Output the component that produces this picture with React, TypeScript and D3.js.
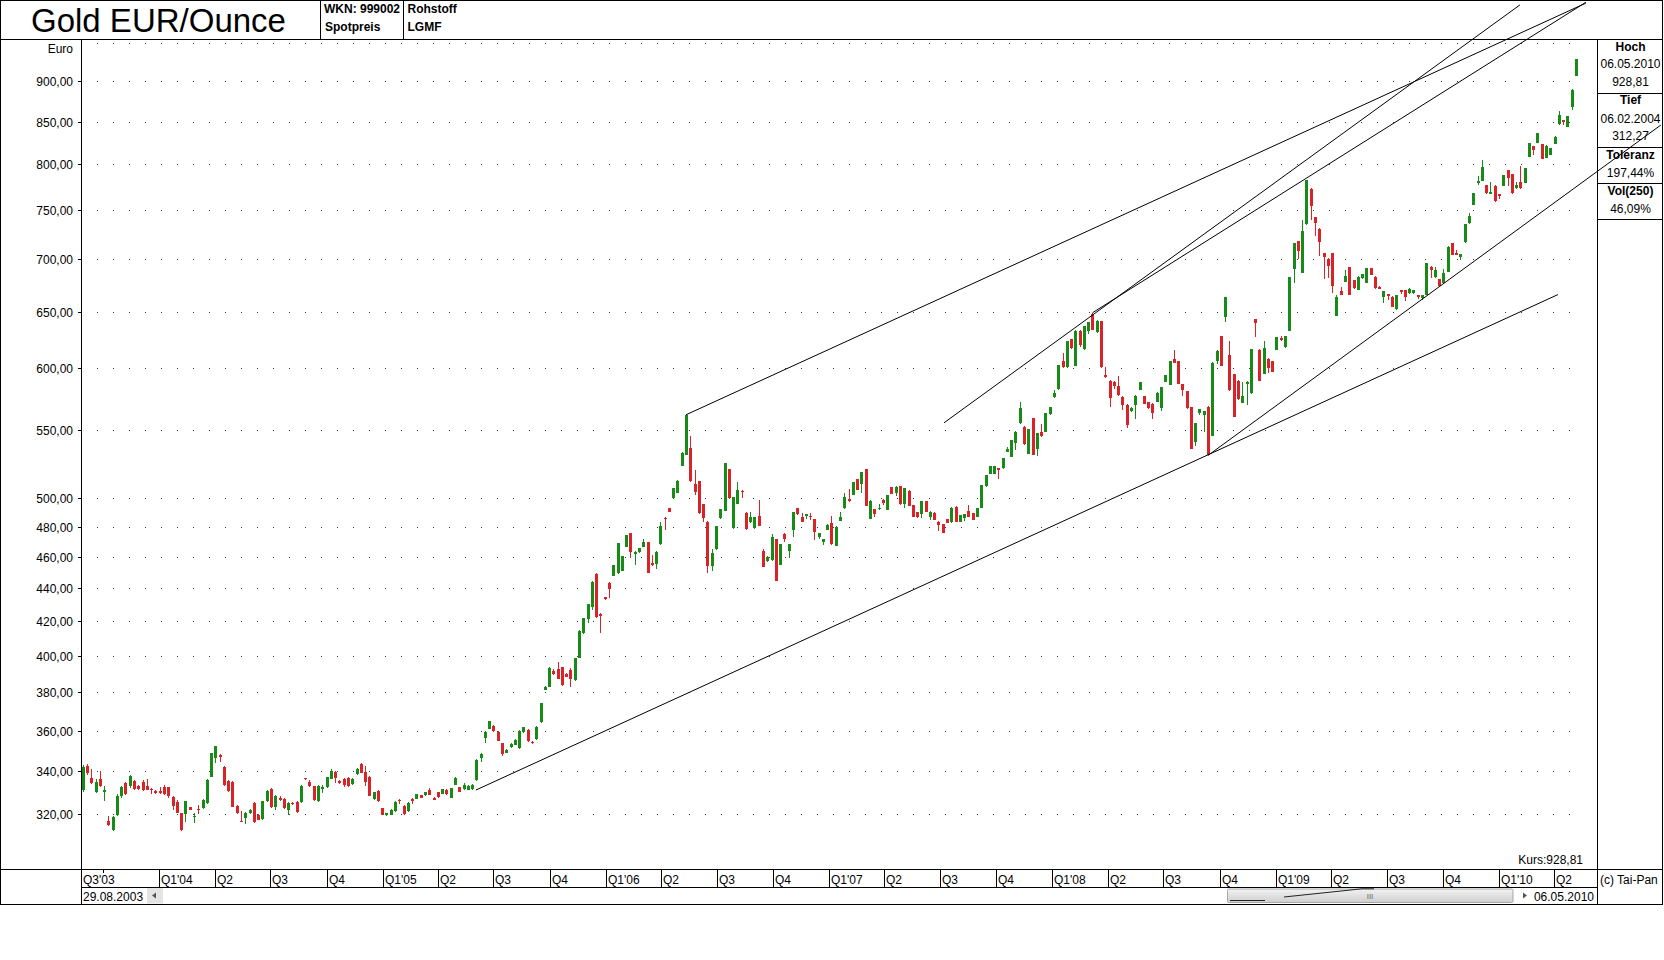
import React from "react";
import * as d3 from "d3";

const W = 1664;
const H = 960;

const startDate = new Date(2003, 7, 29);
const endDate = new Date(2010, 4, 7);

const opens = [
  331,342.5,336.6,330,336,330.2,317,312.7,319.7,328,
  334.3,332.7,335.3,333,335,332.7,331.6,330.7,330.7,332.2,
  332.2,327.9,325.3,320.3,320,323,318.5,322.3,322.6,325,
  337.2,346.4,348,341.9,335.3,334.9,323.7,317,318.3,320.3,
  325,319.5,317.9,325.7,331.6,323,327.3,327,321.9,325,
  325.4,325.3,336.6,334.6,332.7,325.7,331.5,332.4,336.3,339.7,
  335.1,336,336.7,333.8,338.4,343.2,339.5,337.2,327,330.6,
  322.6,319.5,319.7,321.4,326.6,323.7,321.3,327,327,328.6,
  328.7,331,327.5,330,329.3,331,327.5,333.5,332.2,331.3,
  331.2,331.3,335.6,346.2,356.3,361,362.4,359.2,353.5,349,
  351.7,352.8,351,359.2,360.3,354,355.5,364.2,381.3,382.9,
  391.6,392.6,393.5,389.9,392,386.6,398.8,413,421.3,428.7,
  449,424.3,434.4,443.4,447.8,449.3,451,466.6,475.4,462,
  463,466.6,469.5,456,455.6,468.3,486,492.5,499.5,503.6,
  523,531,536,509.7,511.8,495.5,483.3,454.3,464.8,485.6,
  490.8,520.6,478.8,495.5,504.8,489.5,482.9,478.8,487.2,463.9,
  457,457.6,471.6,455,475.1,463.9,477.7,492.5,486.3,487.2,
  487.2,485,472.9,469.8,477.8,482.1,467.2,484.1,492.5,498.9,
  502,513,509.7,520.6,485.2,491.8,492,498.2,491.4,507.3,
  503,508.2,495.5,504.8,494.8,489.7,488.5,497.6,486.3,489.5,
  483.3,481.5,485.2,482.9,493.5,483.3,485.6,490.8,489,486.8,
  493.1,508.2,517.2,517,521,521,533.6,529.5,540.2,555.4,
  552.6,531.8,559.1,535.3,548.9,548.9,562.3,575.9,582.6,606.1,
  600.9,625.4,602.2,632.7,616.3,632.7,647.8,631.4,641.6,594.4,
  589.6,588.8,585.2,576.4,570.2,565.1,569.6,582.4,576.9,572.3,
  571,572.3,567.1,588.8,585.8,608.4,606.1,586.7,581.2,567.9,
  541,563.1,561.8,568.4,545.5,606.4,628.1,645.3,611.5,595.2,
  589.6,571.5,586.9,579.2,643.1,616,595.2,608.4,606.4,616,
  626,618.2,632.7,690.8,717.9,686.5,735.2,772.4,742.4,730.9,
  706.2,700.5,706.2,646.2,669.4,678,692.4,679.6,670.1,681.3,
  677.1,691,682.8,673.3,663.8,666.4,663.8,652.2,670.1,670.1,
  666.9,666.9,665.4,662.4,665.4,692.6,682.2,680.3,676.7,687.8,
  715.7,706.2,701.7,716.9,736.3,755.5,779.6,781.8,777.1,767.4,
  776.4,767.4,776.4,793.4,789.1,773.5,780.7,779.2,808.5,821.3,
  824.4,823.6,807.4,811.1,823.2,846.6,852.1,843.4,867.5,906.2,
];

const highs = [
  343,343.5,341,336,340,332.7,319,319,329,333,
  334.6,338,335.6,333.5,335.5,336,332,331,332.2,333.5,
  332.5,328.2,326.6,320.6,326,323.3,320.5,324,327,336,
  349,352.3,348.5,342.2,335.6,335.2,324,321.3,321,322.2,
  325.3,319.8,326,331,332,328.7,328,327.3,325.3,325.3,
  325.7,333.3,336.9,335.5,333,333.3,333.5,337.3,341,340,
  335.5,336.6,337,336.6,341.5,343.7,342.4,337.5,330.3,331,
  322.9,320.6,322.2,325.7,326.9,324,325.5,327.3,329.3,328.9,
  330.3,331.8,327.8,330.3,331.6,331.3,332.1,337,332.5,334.3,
  333.3,333.8,345.7,348.8,359.5,365,362.7,359.5,353.8,350.5,
  353.7,355.5,360.3,361.9,360.6,354.8,362.2,374.5,383.3,393.9,
  392.6,396.5,393.8,390.2,393,398.9,415,422,430.6,444.3,
  449.3,425,434.7,443.7,454.9,469.1,460.8,474.6,475.7,463.5,
  465.8,472,469.8,461,463.6,483,486.3,492.8,506.9,512.3,
  533.5,562,545.3,519.6,512.1,495.8,483.6,465,480.7,492.3,
  525,520.9,500.5,511.4,505.1,489.8,490,486.7,498.3,464.9,
  460.3,475,471.9,468.6,475.4,468.6,490,492.8,489,488.6,
  489,485.3,475.9,471.9,481.7,487,480.1,490,503,506,
  511.2,513.3,518.4,520.9,498.2,492.1,495.6,499,502.2,507.6,
  508.1,508.5,506.9,505.1,495.1,490,497.9,497.9,490.5,489.8,
  483.6,481.8,485.5,493.4,493.8,488.2,488.8,494.8,489.3,492.8,
  509.2,516.5,523.1,523.1,521.3,528.8,537,542.6,549,572,
  552.9,550.9,559.4,547.8,555,563.4,568.2,582,603.1,613,
  623.9,625.7,633,633,637.2,640.6,649,642.2,641.9,601,
  589.9,589.1,593.5,576.7,570.5,568.5,577.8,588.6,577.2,572.6,
  571.3,580,584.4,594.7,606.4,616,606.4,587,581.5,568.2,
  555.7,566.6,565.4,568.7,605.1,615.4,628.4,663.6,624,595.5,
  589.9,589,589.1,616.9,643.4,616.3,623.6,608.7,606.7,627.2,
  628,628.4,682.5,716,718.2,740,782.8,774.4,742.7,731.2,
  706.5,700.8,706.5,665.4,673,689.4,692.7,679.9,683.1,685.4,
  691.3,691.3,683.1,673.6,669.7,666.7,664.1,665.7,670.4,670.4,
  672,670.3,665.7,665.7,696.2,692.9,692,680.6,690,712.6,
  716,709,705.3,735.8,747.2,768.4,786.9,805,777.4,780,
  776.7,767.7,788.3,793.7,789.4,781,798.5,795.8,824.7,821.6,
  836.4,823.9,822,819,832.5,862.3,852.4,856.5,889.5,928.81,
];

const lows = [
  330,338,334,329.5,332.5,326,314.5,312.5,319,327.5,
  328.5,332,331,331,330.5,331,329,329.3,329.3,328.7,
  327.5,322,320.3,312.27,316.6,321.8,316,320,322.3,324.6,
  337,344,344.6,333,330,323,320,316.2,315.3,320,
  316,317.2,317.5,325.4,322.7,322,326,322.3,319.5,324.2,
  320.5,325,335.8,332.4,325.8,325.4,329.5,332,336,334.3,
  334,332.5,332.4,333.5,338,339,332.7,328,326.5,325.4,
  319.4,319.2,319.4,321.1,324.6,319.7,321,324.6,326.7,327.2,
  328.4,328.5,326.3,327.5,329,328.7,327.2,333.2,330,331,
  330.9,331,335.3,344.5,353.5,360.7,359.4,354.5,347.5,348.7,
  351.4,352.5,350.5,358.9,354.2,353.2,355.2,363.9,381,382.6,
  389.4,387,383.6,388,382.6,386.3,398.5,412.5,419,427,
  422,413.3,433,434,447.5,449,450.7,466.3,459,455,
  462.7,466.3,449.4,454.3,452,468,478,489.9,499.2,503.3,
  522.7,530.7,511.5,502,488.7,483,449.8,450.6,464.5,485.3,
  490.5,499.2,478.5,495.2,500,477.9,482.6,478.5,480.4,453.2,
  456.7,457.3,444.4,454.7,470,459,473.2,488.2,483,485.5,
  484.5,471,471.5,468,477.5,468,466.9,483.8,492.2,497,
  501.7,505.1,503,494,484.9,486.3,491.7,495,491.1,502.4,
  501,494.9,492.5,494,486.5,486,486,489.9,484.5,484.2,
  477.3,475.6,482.3,482.6,483,483,483.5,486.5,484.2,486.5,
  492.8,507.9,516.9,516.7,513.3,520.7,533.3,529.2,535,555.1,
  538.7,531.5,530.7,530,544.8,548.6,562,575.6,582.3,600.6,
  600.6,616.9,601.9,618,616,629.7,633.5,631.1,600.6,592.2,
  568,583,577.5,565.7,552,564.5,559,582.1,570.7,566.8,
  559,572,565,588.5,585.8,604.5,586.6,577,566.8,535.5,
  537.7,561.5,548.7,530.7,545.2,604,601.9,640.8,581.3,560.2,
  574,571.2,570,578.9,627.4,589.3,594.9,596,597,615.7,
  623.5,617.9,632.4,676.6,699.7,686.2,734.9,740,723,702.9,
  680.3,681.3,667.4,645.9,665.1,677.7,665.1,671.4,669.8,681,
  676.8,684.3,671.4,670.8,657.6,660.7,654.2,651.9,666,660,
  666.6,666.6,662,660.5,665.1,681.3,681.9,673.7,676.4,687.5,
  703.7,703.7,699,716.6,736,755.2,777,781.5,767.8,767.1,
  759.3,761.9,776.1,776.4,767.8,773.2,773.2,778.9,808.2,810.3,
  824.1,806.3,807.1,810.8,822.9,846.3,845.3,843.1,864,905.9,
];

const closes = [
  342,339,334.3,334.6,333,331.2,315,318.5,328.4,332.4,
  329,337.5,331.6,331.5,331,331.2,331,329.6,329.6,329,
  328,323.7,320.6,313,325.7,322,319.2,321.7,326.5,335.6,
  348.6,352,346.8,333.2,330.4,323.4,320.3,316.5,320.6,321.9,
  316.2,317.5,325.7,330.7,323,328.4,326.2,322.6,325,324.5,
  320.8,333,336.1,332.7,326.2,333,332.3,337,340,336.7,
  334.3,333.2,332.7,336.3,341.2,339.2,334.6,328.3,330,325.7,
  319.7,320.3,321.9,325.4,326.1,320,325.2,325.7,329,327.5,
  330,328.8,326.6,327.8,331.3,329,331.8,336.7,330.3,333.5,
  333,333.5,345.4,348.5,359.2,364.7,359.7,354.8,348.2,350.2,
  353.4,355.2,360,361.6,354.5,353.5,361.9,374.2,382.8,393.3,
  389.7,387.2,383.8,388.3,387,398.6,414.4,421.7,430.3,444,
  422.3,423.4,433.3,439.5,454.6,468.8,460.5,474.3,463.3,463.3,
  465.5,469.8,449.7,454.6,463.3,480.4,485.3,490.2,506.6,512,
  532.3,561.8,512,503.9,489,485.6,454.2,462.2,480.4,492,
  524.7,499.5,500.2,505.4,504,478.2,486.8,486.4,480.7,453.5,
  459.8,472.8,444.7,468.3,471.6,468.3,489.7,488.5,483.3,488.3,
  486.3,476.6,475.6,471.6,481.4,468.3,479.8,486.8,500.6,497.3,
  510.9,505.4,518.1,494.3,497.9,488.5,493.1,495.9,501.9,502.7,
  507.8,495.2,506.6,494.3,486.8,486.3,497.6,490.2,490.2,484.5,
  481.1,475.9,482.6,493.1,483.3,487.9,488.5,486.8,484.5,492.5,
  508.9,516.2,522.8,522.8,519.8,528.5,535.3,542.3,548.7,567.1,
  539,550.6,531,547.5,545.1,563.1,567.9,579.2,602.8,600.9,
  623.6,617.2,632.7,619.9,636.9,640.3,633.8,641.9,600.9,592.5,
  575.1,585.5,577.8,570.2,554.1,567.6,577.5,588.3,571,567.1,
  563.5,579.7,584.1,594.4,606,604.8,586.9,582,567.1,535.8,
  555.4,566.3,565.1,531,604.8,615.1,602.2,663.3,581.6,560.5,
  574.3,576.9,588.8,616.6,639.5,589.6,617.5,600,597.3,626.9,
  624.5,628.1,682.2,715.7,708.2,728.5,782.5,754.5,736.8,717.3,
  702.3,693,673.7,663.3,665.4,683.4,665.4,671.7,682.8,685.1,
  691,684.6,671.7,671.1,669.4,664.5,654.5,665.4,667.9,663.3,
  670.7,670,663.3,665.4,695.9,689.4,689.4,674,686.8,712.3,
  704,704,705,735.5,743.8,768.1,781.4,797.3,768.1,769.2,
  759.6,765.3,788,784.5,768.1,777.1,773.5,795.5,824.4,816.8,
  836.1,806.6,820.6,818.7,832.2,857.4,849.3,856.2,889.2,928.81,
];

const yTicks = [320, 340, 360, 380, 400, 420, 440, 460, 480, 500, 550, 600, 650, 700, 750, 800, 850, 900];
const gridOnly = [950];

// trendlines: [weekIndex, price] pairs
const trendlines: [number, number][][] = [
  [[141, 562], [351.3, 1004.5]],
  [[91.9, 331.0], [344.8, 665.9]],
  [[263, 530.7], [368.8, 845.7]],
  [[201.3, 555.7], [335.9, 1002]],
  [[236, 649], [351.3, 1005.7]],
];

const titleText = "Gold EUR/Ounce";
const headerCells = [
  ["WKN: 999002", "Spotpreis"],
  ["Rohstoff", "LGMF"],
];
const panelRows = [
  { label: "Hoch", values: ["06.05.2010", "928,81"] },
  { label: "Tief", values: ["06.02.2004", "312,27"] },
  { label: "Toleranz", values: ["197,44%"] },
  { label: "Vol(250)", values: ["46,09%"] },
];
const firstDateLabel = "29.08.2003";
const lastDateLabel = "06.05.2010";

const FONT = "Arial, 'Liberation Sans', sans-serif";
const GREEN = "#178a17";
const RED = "#d82428";

export default function App() {
  const plotL = 81.5;
  const plotR = 1597.5;
  const x = d3.scaleTime().domain([startDate, endDate]).range([82.7, 1576]);
  const y = d3.scaleLog().domain([320, 900]).range([814, 81]);
  const dateOf = (k: number) => new Date(startDate.getTime() + k * 7 * 86400000);
  const dates = closes.map((_, i) => d3.timeDay.offset(startDate, 7 * i));
  const fmt = (v: number) => d3.format(".2f")(v).replace(".", ",");

  const quarters = d3.timeMonth.every(3)!.range(new Date(2003, 9, 1), endDate);
  const qLabel = (d: Date) => {
    const q = Math.floor(d.getMonth() / 3) + 1;
    return q === 1 ? `Q1'${String(d.getFullYear()).slice(2)}` : `Q${q}`;
  };

  const line = d3.line<[number, number]>().x((p) => x(dateOf(p[0]))).y((p) => y(p[1]));

  // panel layout
  const panelLines = [93.5, 147.5, 183.5, 219.5];
  const panelBase = [
    [50.7, 68.3, 86.3],
    [104.3, 122.7, 140.3],
    [159, 177],
    [195, 213.3],
  ];

  return (
    <svg
      width={W}
      height={H}
      viewBox={`0 0 ${W} ${H}`}
      style={{ position: "absolute", left: 0, top: 0, background: "#fff" }}
      fontFamily={FONT}
    >
      <rect x={0} y={0} width={W} height={H} fill="#fff" />

      {/* gridlines */}
      <g shapeRendering="crispEdges">
        {[...yTicks, ...gridOnly].map((v) => {
          const yy = Math.round(y(v)) + 0.5;
          return (
            <line key={v} x1={97} x2={1580} y1={yy} y2={yy} stroke="#3a3a3a" strokeWidth={1} strokeDasharray="1 15" />
          );
        })}
      </g>

      {/* candles */}
      <g shapeRendering="crispEdges">
        {closes.map((c, i) => {
          const o = opens[i];
          const hi = highs[i];
          const lo = lows[i];
          const px = Math.round(x(dates[i]));
          const col = c >= o ? GREEN : RED;
          const top = y(Math.max(o, c));
          const bot = y(Math.min(o, c));
          return (
            <g key={i}>
              <line x1={px + 0.5} x2={px + 0.5} y1={y(hi)} y2={y(lo)} stroke={col} strokeWidth={1} />
              <rect x={px - 1} y={top} width={3} height={Math.max(1, bot - top)} fill={col} />
            </g>
          );
        })}
      </g>

      {/* frame */}
      <g shapeRendering="crispEdges" stroke="#000" strokeWidth={1} fill="none">
        <rect x={0.5} y={0.5} width={1662} height={903.5} />
        <line x1={0} x2={1663} y1={39.5} y2={39.5} />
        <line x1={320.5} x2={320.5} y1={0} y2={40} />
        <line x1={403.5} x2={403.5} y1={0} y2={40} />
        <line x1={plotL} x2={plotL} y1={40} y2={904} />
        <line x1={plotR} x2={plotR} y1={40} y2={904} />
        <line x1={0} x2={1663} y1={869.5} y2={869.5} />
        <line x1={plotL} x2={plotR} y1={887.5} y2={887.5} />
        {panelLines.map((py) => (
          <line key={py} x1={plotR} x2={1663} y1={py} y2={py} />
        ))}
        {yTicks.map((v) => {
          const yy = Math.round(y(v)) + 0.5;
          return <line key={v} x1={78} x2={81} y1={yy} y2={yy} />;
        })}
      </g>

      {/* header */}
      <text x={31} y={31.5} fontSize={33} fill="#000">{titleText}</text>
      {headerCells.map((cell, ci) => (
        <g key={ci}>
          <text x={ci === 0 ? 324 : 407.5} y={13} fontSize={12} fontWeight="bold">{cell[0]}</text>
          <text x={ci === 0 ? 325 : 407.5} y={30.5} fontSize={12} fontWeight="bold">{cell[1]}</text>
        </g>
      ))}

      {/* y axis labels */}
      <text x={73} y={53} fontSize={12} textAnchor="end">Euro</text>
      {yTicks.map((v) => (
        <text key={v} x={73} y={Math.round(y(v)) + 4.5} fontSize={12} textAnchor="end">{fmt(v)}</text>
      ))}

      {/* x axis quarters */}
      <text x={83} y={884} fontSize={12}>Q3'03</text>
      {quarters.map((d, i) => {
        const qx = Math.round(x(d)) + 0.5;
        const first = i === 0;
        return (
          <g key={i}>
            <line x1={qx} x2={qx} y1={869} y2={first ? 873 : 887} stroke="#000" shapeRendering="crispEdges" />
            {!first && (
              <text x={qx + 1.5} y={884} fontSize={12}>{qLabel(d)}</text>
            )}
          </g>
        );
      })}

      {/* date band */}
      <text x={83} y={900.5} fontSize={12}>{firstDateLabel}</text>
      <rect x={147} y={888} width={16} height={15.5} fill="#e4e4e4" />
      <path d="M152,895.5 L156,892.5 L156,898.5 Z" fill="#555" />
      <defs>
        <linearGradient id="sb" x1="0" x2="0" y1="0" y2="1">
          <stop offset="0" stopColor="#f2f2f2" />
          <stop offset="1" stopColor="#cfcfcf" />
        </linearGradient>
      </defs>
      <rect x={1227.5} y={889} width={285.5} height={13.5} rx={1.5} fill="url(#sb)" stroke="#a8a8a8" />
      <path d="M1230,900.5 L1265,900.5 M1284,897 L1362,888.8 L1374,888.8" stroke="#222" fill="none" strokeWidth={1} />
      <text x={1370} y={899} fontSize={8} fill="#666" textAnchor="middle">III</text>
      <path d="M1523,892.5 L1527,895.5 L1523,898.5 Z" fill="#555" />
      <text x={1594} y={900.5} fontSize={12} textAnchor="end">{lastDateLabel}</text>
      <text x={1600} y={883.5} fontSize={12}>(c) Tai-Pan</text>

      <text x={1583} y={864} fontSize={12} textAnchor="end">{`Kurs:${fmt(closes[closes.length - 1])}`}</text>

      {/* info panel */}
      {panelRows.map((row, ri) => (
        <g key={ri}>
          <text x={1630.5} y={panelBase[ri][0]} fontSize={12} fontWeight="bold" textAnchor="middle">{row.label}</text>
          {row.values.map((v, vi) => (
            <text key={vi} x={1630.5} y={panelBase[ri][vi + 1]} fontSize={12} textAnchor="middle">{v}</text>
          ))}
        </g>
      ))}

      {/* trendlines */}
      <g fill="none" stroke="#000" strokeWidth={1}>
        {trendlines.map((t, i) => (
          <path key={i} d={line(t) || ""} />
        ))}
      </g>
    </svg>
  );
}
